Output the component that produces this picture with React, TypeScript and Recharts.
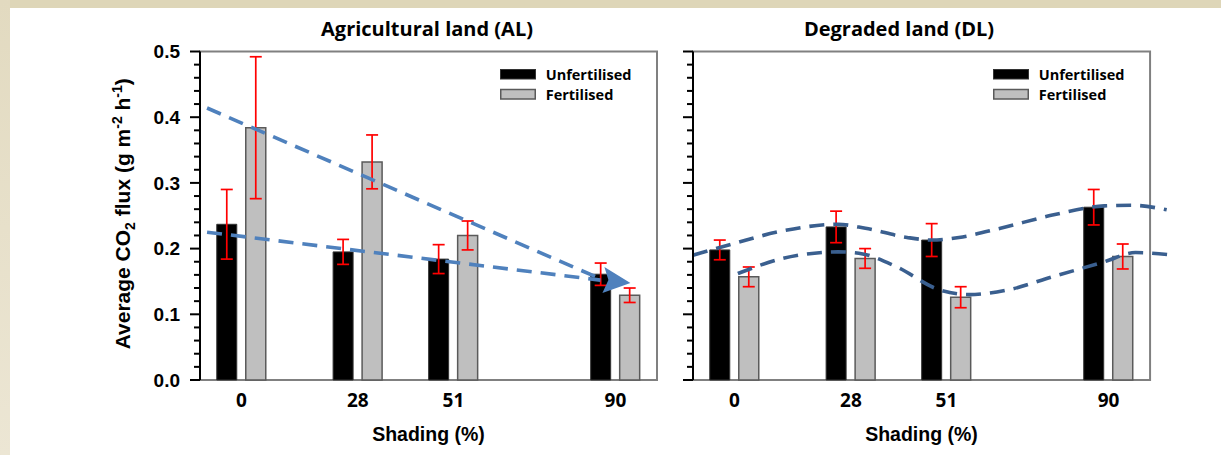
import React from 'react';
import {
  ComposedChart,
  Bar,
  Line,
  XAxis,
  YAxis,
  ErrorBar,
  ReferenceArea,
  ReferenceDot,
  Legend,
} from 'recharts';

// ---------- data ----------
const shadingLevels = [0, 28, 51, 90];

// Agricultural land (AL)
const alUnfertilised = [0.237, 0.195, 0.184, 0.161];
const alUnfertilisedErr = [0.053, 0.019, 0.022, 0.017];
const alFertilised = [0.384, 0.332, 0.22, 0.129];
const alFertilisedErr = [0.108, 0.041, 0.022, 0.011];

// Degraded land (DL)
const dlUnfertilised = [0.198, 0.233, 0.213, 0.263];
const dlUnfertilisedErr = [0.015, 0.024, 0.025, 0.027];
const dlFertilised = [0.157, 0.185, 0.126, 0.188];
const dlFertilisedErr = [0.015, 0.015, 0.016, 0.019];

// hand-drawn trend annotations (data coordinates)
const alTrendUpperX = [-8.3, 86.4];
const alTrendUpperY = [0.414, 0.154];
const alTrendLowerX = [-8.3, 86.4];
const alTrendLowerY = [0.225, 0.152];
const alArrowTip = { x: 93.6, y: 0.1476 };

const dlTrendUpperX = [-10, 0, 11.6, 24.9, 31.5, 41.5, 47.4, 54.0, 64.0, 76.5, 89.0, 95.6, 104.0];
const dlTrendUpperY = [0.19, 0.208, 0.227, 0.237, 0.231, 0.217, 0.213, 0.217, 0.231, 0.251, 0.265, 0.266, 0.259];
const dlTrendLowerX = [0.8, 11.6, 24.9, 29.9, 39.1, 49.0, 56.5, 65.7, 76.5, 89.0, 96.5, 105.6];
const dlTrendLowerY = [0.162, 0.185, 0.195, 0.193, 0.172, 0.138, 0.13, 0.137, 0.157, 0.18, 0.194, 0.19];

const yTicks = [
  0, 0.02, 0.04, 0.06, 0.08, 0.1, 0.12, 0.14, 0.16, 0.18, 0.2, 0.22, 0.24, 0.26, 0.28, 0.3,
  0.32, 0.34, 0.36, 0.38, 0.4, 0.42, 0.44, 0.46, 0.48, 0.5,
];
const yTickLabels = ['0.0', '0.1', '0.2', '0.3', '0.4', '0.5'];
const xTickLabels = ['0', '28', '51', '90'];

const seriesNames = ['Unfertilised', 'Fertilised'];
const panelTitles = ['Agricultural land (AL)', 'Degraded land (DL)'];
const xAxisTitle = 'Shading (%)';

// ---------- helpers ----------
const makeBarData = (unf: number[], unfErr: number[], fert: number[], fertErr: number[]) =>
  shadingLevels.map((s, i) => ({ shading: s, unf: unf[i], unfErr: unfErr[i], fert: fert[i], fertErr: fertErr[i] }));
const makeLineData = (xs: number[], ys: number[]) => xs.map((x, i) => ({ shading: x, trend: ys[i] }));

const SANS = '"Liberation Sans", Arial, sans-serif';
const CAL = '"Open Sans", sans-serif';

const UNF_FILL = '#000000';
const FERT_FILL = '#BFBFBF';
const FERT_STROKE = '#5a5a5a';

const YTick = (props: any) => {
  const { x, y, payload, showLabel } = props;
  const v = payload.value as number;
  const idx = Math.round(v * 10);
  const major = Math.abs(v * 10 - idx) < 1e-6;
  const len = major ? 10 : 6;
  return (
    <g>
      <line x1={x - len} x2={x} y1={y} y2={y} stroke="#000" strokeWidth={2} />
      {major && showLabel ? (
        <text
          x={x - 20}
          y={y}
          dy={6.8}
          textAnchor="end"
          fontFamily={SANS}
          fontWeight="bold"
          fontSize={19}
          fill="#000"
        >
          {yTickLabels[idx]}
        </text>
      ) : null}
    </g>
  );
};

const XTick = (props: any) => {
  const { x, y, payload } = props;
  const i = shadingLevels.indexOf(payload.value);
  return (
    <text x={x} y={y} dy={27.3} textAnchor="middle" fontFamily={CAL} fontWeight="bold" fontSize={19} fill="#000">
      {i >= 0 ? xTickLabels[i] : ''}
    </text>
  );
};

const YLabel = (props: any) => {
  const vb = props.viewBox || { x: 0, y: 51.5, width: 200, height: 328.5 };
  const cx = vb.x + 129.5;
  const cy = vb.y + vb.height / 2 - 2;
  return (
    <text
      x={cx}
      y={cy}
      transform={`rotate(-90 ${cx} ${cy})`}
      textAnchor="middle"
      fontFamily={SANS}
      fontWeight="bold"
      fontSize={21}
      fill="#000"
    >
      Average CO
      <tspan dy={5} fontSize={14}>2</tspan>
      <tspan dy={-5}> flux (g m</tspan>
      <tspan dy={-8} fontSize={14}>-2</tspan>
      <tspan dy={8}> h</tspan>
      <tspan dy={-8} fontSize={14}>-1</tspan>
      <tspan dy={8}>)</tspan>
    </text>
  );
};

const LegendBox = () => (
  <svg width={140} height={45} style={{ display: 'block' }}>
    <rect x={0.5} y={9.5} width={35} height={9.5} fill={UNF_FILL} stroke="#333" strokeWidth={1} />
    <text x={45.7} y={20} fontFamily={CAL} fontWeight="bold" fontSize={14.5} fill="#000">
      {seriesNames[0]}
    </text>
    <rect x={0.75} y={29.5} width={34.5} height={9.5} fill={FERT_FILL} stroke={FERT_STROKE} strokeWidth={1.5} />
    <text x={45.7} y={39.5} fontFamily={CAL} fontWeight="bold" fontSize={14.5} fill="#000">
      {seriesNames[1]}
    </text>
  </svg>
);

const ArrowHead = (props: any) => {
  const { cx, cy, fill } = props;
  if (cx == null || cy == null) return null;
  const pts = [
    [cx - 26, cy - 16],
    [cx, cy],
    [cx - 28, cy + 10],
    [cx - 22, cy - 3],
  ]
    .map((p) => p.join(','))
    .join(' ');
  return <polygon points={pts} fill={fill} />;
};

type PanelProps = {
  left: number;
  width: number;
  domainMax: number;
  yAxisWidth: number;
  marginRight: number;
  barData: any[];
  trends: any[][];
  trendColor: string;
  curveType: 'linear' | 'monotone';
  showYLabels: boolean;
  legendLeft: number;
  xLabelDx: number;
  arrow?: { x: number; y: number };
};

function Panel(p: PanelProps) {
  return (
    <div style={{ position: 'absolute', left: p.left, top: 0 }}>
      <ComposedChart
        width={p.width}
        height={455}
        data={p.barData}
        margin={{ top: 51.5, right: p.marginRight, bottom: 0, left: 0 }}
        barGap={9}
      >
        <XAxis
          xAxisId="bars"
          dataKey="shading"
          type="number"
          domain={[-10, p.domainMax]}
          allowDataOverflow
          ticks={shadingLevels}
          interval={0}
          height={75}
          axisLine={false}
          tickLine={false}
          tickSize={0}
          tickMargin={0}
          tick={<XTick />}
          label={{
            value: xAxisTitle,
            position: 'insideBottom',
            offset: 14,
            dx: p.xLabelDx,
            fontFamily: SANS,
            fontWeight: 'bold',
            fontSize: 19.5,
            fill: '#000',
          }}
        />
        <XAxis
          xAxisId="lines"
          dataKey="shading"
          type="number"
          domain={[-10, p.domainMax]}
          allowDataOverflow
          hide
          height={75}
        />
        <YAxis
          type="number"
          domain={[0, 0.5]}
          ticks={yTicks}
          interval={0}
          width={p.yAxisWidth}
          axisLine={{ stroke: '#000', strokeWidth: 2 }}
          tickLine={false}
          tickSize={0}
          tickMargin={0}
          tick={<YTick showLabel={p.showYLabels} />}
          label={p.showYLabels ? (props: any) => <YLabel {...props} /> : undefined}
        />
        <ReferenceArea
          xAxisId="bars"
          x1={-10}
          x2={100}
          y1={0}
          y2={0.5}
          fill="none"
          stroke="#808080"
          strokeWidth={2}
          fillOpacity={0}
        />
        <Bar
          xAxisId="bars"
          dataKey="unf"
          name={seriesNames[0]}
          fill={UNF_FILL}
          stroke="#333"
          strokeWidth={1}
          barSize={20}
          isAnimationActive={false}
        >
          <ErrorBar dataKey="unfErr" direction="y" width={6} stroke="#FF0000" strokeWidth={1.7} />
        </Bar>
        <Bar
          xAxisId="bars"
          dataKey="fert"
          name={seriesNames[1]}
          fill={FERT_FILL}
          stroke={FERT_STROKE}
          strokeWidth={1.5}
          barSize={20}
          isAnimationActive={false}
        >
          <ErrorBar dataKey="fertErr" direction="y" width={6} stroke="#FF0000" strokeWidth={1.7} />
        </Bar>
        {p.trends.map((d, i) => (
          <Line
            key={i}
            xAxisId="lines"
            data={d}
            dataKey="trend"
            type={p.curveType}
            stroke={p.trendColor}
            strokeWidth={3.6}
            strokeDasharray="15 9"
            dot={false}
            activeDot={false}
            legendType="none"
            isAnimationActive={false}
          />
        ))}
        {p.arrow ? (
          <ReferenceDot
            xAxisId="lines"
            x={p.arrow.x}
            y={p.arrow.y}
            r={1}
            fill={p.trendColor}
            stroke="none"
            shape={(sp: any) => <ArrowHead {...sp} fill={p.trendColor} />}
          />
        ) : null}
        <Legend
          layout="vertical"
          align="center"
          verticalAlign="middle"
          wrapperStyle={{ left: p.legendLeft, top: 60, width: 140, height: 45 }}
          content={() => <LegendBox />}
        />
      </ComposedChart>
    </div>
  );
}

export default function App() {
  const alBars = makeBarData(alUnfertilised, alUnfertilisedErr, alFertilised, alFertilisedErr);
  const dlBars = makeBarData(dlUnfertilised, dlUnfertilisedErr, dlFertilised, dlFertilisedErr);
  const alTrends = [makeLineData(alTrendUpperX, alTrendUpperY), makeLineData(alTrendLowerX, alTrendLowerY)];
  const dlTrends = [makeLineData(dlTrendUpperX, dlTrendUpperY), makeLineData(dlTrendLowerX, dlTrendLowerY)];

  return (
    <div
      style={{
        position: 'absolute',
        left: 0,
        top: 0,
        width: 1221,
        height: 455,
        background: '#ffffff',
        overflow: 'hidden',
      }}
    >
      <div style={{ position: 'absolute', left: 0, top: 0, width: 1221, height: 8, background: '#DED6B8' }} />
      <div
        style={{
          position: 'absolute',
          left: 0,
          top: 0,
          width: 10,
          height: 455,
          background: 'linear-gradient(#E2DAC0, #ECE6D4)',
        }}
      />
      <Panel
        left={0}
        width={680}
        domainMax={100}
        yAxisWidth={200}
        marginRight={23}
        barData={alBars}
        trends={alTrends}
        trendColor="#4F81BD"
        curveType="linear"
        showYLabels
        legendLeft={500}
        xLabelDx={0}
        arrow={alArrowTip}
      />
      <Panel
        left={660}
        width={561}
        domainMax={106}
        yAxisWidth={33}
        marginRight={46}
        barData={dlBars}
        trends={dlTrends}
        trendColor="#3A5F8F"
        curveType="monotone"
        showYLabels={false}
        legendLeft={333.3}
        xLabelDx={-12.5}
      />
      <svg
        width={1221}
        height={50}
        style={{ position: 'absolute', left: 0, top: 0, pointerEvents: 'none' }}
      >
        <text x={427} y={35.7} textAnchor="middle" fontFamily={CAL} fontWeight="bold" fontSize={20} fill="#000">
          {panelTitles[0]}
        </text>
        <text x={899} y={35.7} textAnchor="middle" fontFamily={CAL} fontWeight="bold" fontSize={20} fill="#000">
          {panelTitles[1]}
        </text>
      </svg>
    </div>
  );
}
